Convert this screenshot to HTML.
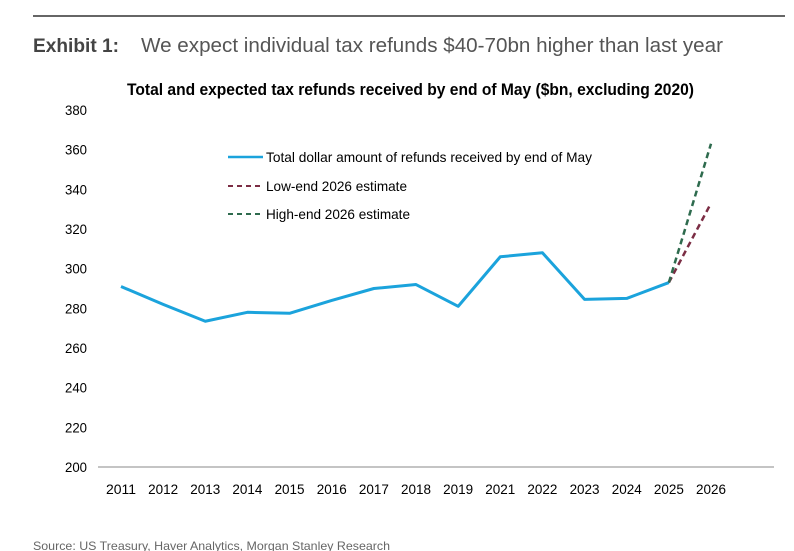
<!DOCTYPE html>
<html><head><meta charset="utf-8"><style>
body{margin:0;background:#fff;width:794px;height:551px;overflow:hidden;font-family:"Liberation Sans",sans-serif}
svg{display:block}
</style></head><body>
<svg id="c" width="794" height="551">
<line x1="33" y1="16" x2="785" y2="16" stroke="#333" stroke-width="1.5"/>
<text x="33" y="52" font-weight="bold" font-size="19" fill="#444" textLength="86" lengthAdjust="spacingAndGlyphs">Exhibit 1:</text>
<text x="141" y="52" font-size="20" fill="#555" textLength="582" lengthAdjust="spacingAndGlyphs">We expect individual tax refunds $40-70bn higher than last year</text>
<text x="127" y="95" font-weight="bold" font-size="17" fill="#000" textLength="567" lengthAdjust="spacingAndGlyphs">Total and expected tax refunds received by end of May ($bn, excluding 2020)</text>
<g id="yt"></g><g id="xt"></g>
<line x1="98" y1="467" x2="774" y2="467" stroke="#888" stroke-width="1"/>
<g id="series"></g>
<g>
<line x1="228" y1="157" x2="263" y2="157" stroke="#1ba3dc" stroke-width="2.5"/>
<text x="266" y="162" font-size="14" fill="#000" textLength="326" lengthAdjust="spacingAndGlyphs">Total dollar amount of refunds received by end of May</text>
<line x1="228" y1="186" x2="263" y2="186" stroke="#7b2d44" stroke-width="2" stroke-dasharray="5,4"/>
<text x="266" y="191" font-size="14" fill="#000" textLength="141" lengthAdjust="spacingAndGlyphs">Low-end 2026 estimate</text>
<line x1="228" y1="214" x2="263" y2="214" stroke="#2e6b4e" stroke-width="2" stroke-dasharray="5,4"/>
<text x="266" y="219" font-size="14" fill="#000" textLength="144" lengthAdjust="spacingAndGlyphs">High-end 2026 estimate</text>
</g>
<text x="33" y="550" font-size="12" fill="#666" textLength="357" lengthAdjust="spacingAndGlyphs">Source: US Treasury, Haver Analytics, Morgan Stanley Research</text>
</svg>
<script>
const categories=["2011","2012","2013","2014","2015","2016","2017","2018","2019","2021","2022","2023","2024","2025","2026"];
const totalValues=[291,282,273.5,278,277.5,284,290,292,281,306,308,284.5,285,293];
const lowEstimate=[293,333];
const highEstimate=[293,363];
const yTicks=[200,220,240,260,280,300,320,340,360,380];
const ns="http://www.w3.org/2000/svg";
const x=i=>121+i*(590/14);
const y=v=>467-(v-200)*(357/180);
function mk(t,a,p){const e=document.createElementNS(ns,t);for(const k in a)e.setAttribute(k,a[k]);p.appendChild(e);return e;}
const yt=document.getElementById('yt'),xt=document.getElementById('xt'),s=document.getElementById('series');
yTicks.forEach(v=>{const t=mk('text',{x:87,y:y(v)+5,'text-anchor':'end','font-size':14,fill:'#000',textLength:22,lengthAdjust:'spacingAndGlyphs'},yt);t.textContent=v;

});
categories.forEach((c,i)=>{const t=mk('text',{x:x(i)-15,y:494,'font-size':14,fill:'#000',textLength:30,lengthAdjust:'spacingAndGlyphs'},xt);t.textContent=c;

});
const p1=mk('polyline',{points:totalValues.map((v,i)=>x(i)+','+y(v)).join(' '),fill:'none',stroke:'#1ba3dc','stroke-width':3,'stroke-linejoin':'round'},s);


const n=totalValues.length-1;
const p2=mk('polyline',{points:lowEstimate.map((v,i)=>x(n+i)+','+y(v)).join(' '),fill:'none',stroke:'#7b2d44','stroke-width':2.5,'stroke-dasharray':'6,4'},s);


const p3=mk('polyline',{points:highEstimate.map((v,i)=>x(n+i)+','+y(v)).join(' '),fill:'none',stroke:'#2e6b4e','stroke-width':2.5,'stroke-dasharray':'6,4'},s);


</script>
</body></html>
